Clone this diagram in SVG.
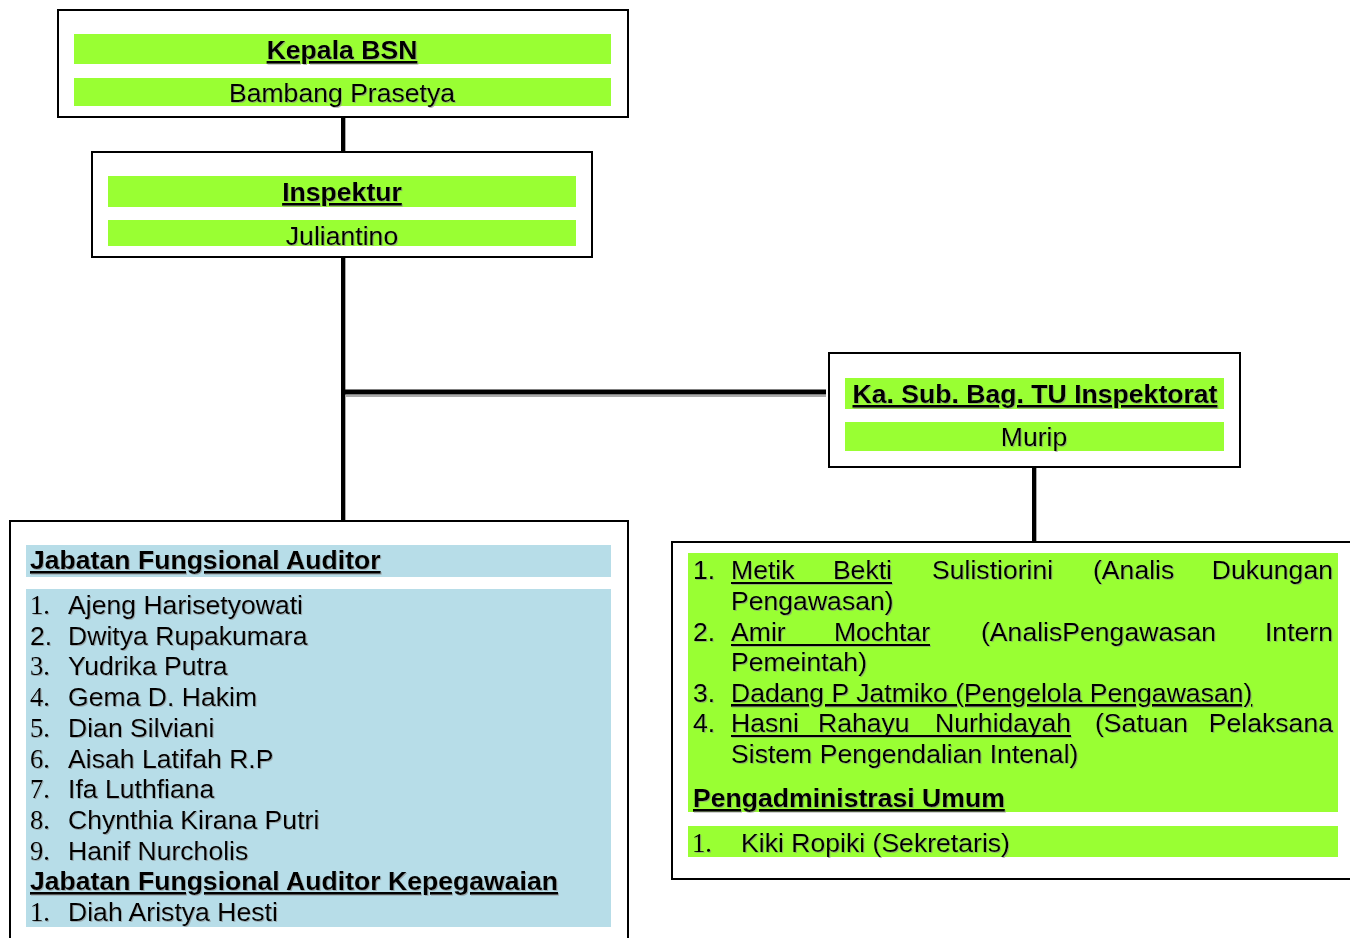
<svg xmlns="http://www.w3.org/2000/svg" width="1350" height="938" viewBox="0 0 1350 938">
<defs>
<filter id="sh" x="-5%" y="-5%" width="110%" height="120%">
<feDropShadow dx="1" dy="1" stdDeviation="0.3" flood-color="#888" flood-opacity="0.6"/>
</filter>
</defs>
<style>
.box{fill:#fff;stroke:#000;stroke-width:2}
.g{fill:#99ff33}
.b{fill:#b7dde8}
text{font-family:"Liberation Sans",Arial,sans-serif;font-size:26.6px;fill:#000}
.bd{font-weight:bold}
.u{text-decoration:underline}
.c{text-anchor:middle}
.e{text-anchor:end}
.tm{font-family:"Liberation Serif","Times New Roman",serif}
.conn{stroke:#000;stroke-width:4;fill:none}
.cs{stroke:#aaa;stroke-width:2;fill:none}
.ul{stroke:#000;stroke-width:2}
.t{filter:url(#sh)}
</style>

<g id="connectors">
<line class="cs" x1="345" y1="118" x2="345" y2="153"/>
<line class="conn" x1="343" y1="117" x2="343" y2="152"/>
<line class="cs" x1="345" y1="258" x2="345" y2="523"/>
<line class="conn" x1="343" y1="257" x2="343" y2="521"/>
<line class="cs" x1="346" y1="396" x2="826" y2="396"/>
<line class="conn" style="stroke-width:5" x1="345" y1="392" x2="826" y2="392"/>
<line class="cs" x1="1036" y1="468" x2="1036" y2="543"/>
<line class="conn" x1="1034" y1="467" x2="1034" y2="542"/>
</g>

<g id="kepala">
<rect class="box" x="58" y="10" width="570" height="107"/>
<rect class="g" x="74" y="34" width="537" height="30"/>
<rect class="g" x="74" y="78" width="537" height="28"/>
<g class="t">
<text class="bd u c" x="342" y="59">Kepala BSN</text>
<text class="c" x="342" y="102">Bambang Prasetya</text>
</g>
</g>

<g id="inspektur">
<rect class="box" x="92" y="152" width="500" height="105"/>
<rect class="g" x="108" y="176" width="468" height="31"/>
<rect class="g" x="108" y="220" width="468" height="26"/>
<g class="t">
<text class="bd u c" x="342" y="201">Inspektur</text>
<text class="c" x="342" y="245">Juliantino</text>
</g>
</g>

<g id="kasubbag">
<rect class="box" x="829" y="353" width="411" height="114"/>
<rect class="g" x="845" y="378" width="379" height="31"/>
<rect class="g" x="845" y="422" width="379" height="29"/>
<g class="t">
<text class="bd u c" x="1035" y="403">Ka. Sub. Bag. TU Inspektorat</text>
<text class="c" x="1034" y="446">Murip</text>
</g>
</g>

<g id="auditor">
<rect class="box" x="10" y="521" width="618" height="430"/>
<rect class="b" x="26" y="545" width="585" height="32"/>
<rect class="b" x="26" y="589" width="585" height="338"/>
<g class="t">
<text class="bd u" x="30" y="569">Jabatan Fungsional Auditor</text>
<text class="tm" x="30" y="614">1.</text><text x="68" y="614">Ajeng Harisetyowati</text>
<text x="30" y="645">2.</text><text x="68" y="645">Dwitya Rupakumara</text>
<text class="tm" x="30" y="675">3.</text><text x="68" y="675">Yudrika Putra</text>
<text class="tm" x="30" y="706">4.</text><text x="68" y="706">Gema D. Hakim</text>
<text class="tm" x="30" y="737">5.</text><text x="68" y="737">Dian Silviani</text>
<text class="tm" x="30" y="768">6.</text><text x="68" y="768">Aisah Latifah R.P</text>
<text class="tm" x="30" y="798">7.</text><text x="68" y="798">Ifa Luthfiana</text>
<text class="tm" x="30" y="829">8.</text><text x="68" y="829">Chynthia Kirana Putri</text>
<text class="tm" x="30" y="860">9.</text><text x="68" y="860">Hanif Nurcholis</text>
<text class="bd u" x="30" y="890">Jabatan Fungsional Auditor Kepegawaian</text>
<text class="tm" x="30" y="921">1.</text><text x="68" y="921">Diah Aristya Hesti</text>
</g>
</g>

<g id="staf">
<rect class="box" x="672" y="542" width="700" height="337"/>
<rect class="g" x="688" y="553" width="650" height="259"/>
<rect class="g" x="688" y="826" width="650" height="31"/>
<g class="t">
<text x="693" y="579">1.</text>
<text x="731" y="579">Metik</text>
<text class="e" x="892" y="579">Bekti</text>
<text x="932" y="579">Sulistiorini</text>
<text x="1093" y="579">(Analis</text>
<text class="e" x="1333" y="579">Dukungan</text>
<line class="ul" x1="731" y1="583" x2="892" y2="583"/>
<text x="731" y="610">Pengawasan)</text>
<text x="693" y="641">2.</text>
<text x="731" y="641">Amir</text>
<text class="e" x="930" y="641">Mochtar</text>
<text x="981" y="641">(AnalisPengawasan</text>
<text class="e" x="1333" y="641">Intern</text>
<line class="ul" x1="731" y1="645" x2="930" y2="645"/>
<text x="731" y="671">Pemeintah)</text>
<text x="693" y="702">3.</text>
<text class="u" x="731" y="702">Dadang P Jatmiko (Pengelola Pengawasan)</text>
<text x="693" y="732">4.</text>
<text x="731" y="732">Hasni</text>
<text x="818" y="732">Rahayu</text>
<text class="e" x="1071" y="732">Nurhidayah</text>
<text x="1095" y="732">(Satuan</text>
<text class="e" x="1333" y="732">Pelaksana</text>
<line class="ul" x1="731" y1="736" x2="1071" y2="736"/>
<text x="731" y="763">Sistem Pengendalian Intenal)</text>
<text class="bd u" x="693" y="807">Pengadministrasi Umum</text>
<text class="tm" x="692" y="852">1.</text>
<text x="741" y="852">Kiki Ropiki (Sekretaris)</text>
</g>
</g>
</svg>
